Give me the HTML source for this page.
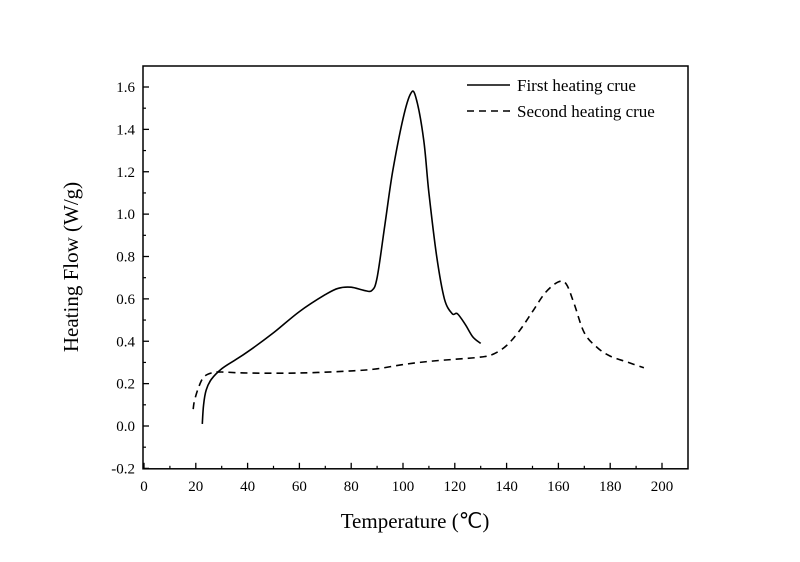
<!DOCTYPE html>
<html><head><meta charset="utf-8"><style>
body{margin:0;background:#fff;}
svg{display:block;font-family:"Liberation Serif",serif;}
</style></head><body>
<svg id="chart" width="800" height="562"></svg>
<script>
const xTicks=[0,20,40,60,80,100,120,140,160,180,200];
const yTicks=[-0.2,0.0,0.2,0.4,0.6,0.8,1.0,1.2,1.4,1.6];
const firstT=[22.5,23,24,26,30,35,40,50,60,70,75,80,85,88,90,93,96,100,103,105,108,110,113,116,119,121,124,127,130];
const firstH=[0.01,0.1,0.17,0.22,0.27,0.31,0.35,0.44,0.54,0.62,0.65,0.655,0.64,0.64,0.7,0.95,1.2,1.45,1.57,1.55,1.35,1.1,0.8,0.6,0.53,0.53,0.48,0.42,0.39];
const secondT=[19,19.5,21,23,26,30,40,60,80,90,100,110,120,130,135,140,145,150,155,160,163,166,170,175,180,187,193];
const secondH=[0.08,0.12,0.18,0.23,0.25,0.255,0.25,0.25,0.26,0.27,0.29,0.305,0.315,0.325,0.34,0.38,0.45,0.54,0.63,0.68,0.67,0.58,0.44,0.37,0.33,0.3,0.275];
const NS='http://www.w3.org/2000/svg';
const svg=document.getElementById('chart');
const L=143,R=688,T=66,B=468.8;
const xs=v=>144+(v)*(662-144)/200;
const ys=v=>426-(v)*(426-87)/1.6;
function mk(tag,attrs,parent){const e=document.createElementNS(NS,tag);for(const k in attrs)e.setAttribute(k,attrs[k]);(parent||svg).appendChild(e);return e;}
const frame=mk('rect',{x:L,y:T,width:R-L,height:B-T,fill:'none',stroke:'#000','stroke-width':1.5});


xTicks.forEach((v,i)=>{
 const t=mk('line',{x1:xs(v),x2:xs(v),y1:B,y2:B-6,stroke:'#000','stroke-width':1.3});
 
 
 if(i<xTicks.length-1){const m=mk('line',{x1:xs(v+10),x2:xs(v+10),y1:B,y2:B-3,stroke:'#000','stroke-width':1.2});
 
 }
 const lb=mk('text',{x:xs(v),y:B+22,'text-anchor':'middle','font-size':15});lb.textContent=v;
 
 
});
yTicks.forEach((v,i)=>{
 const t=mk('line',{x1:L,x2:L+6,y1:ys(v),y2:ys(v),stroke:'#000','stroke-width':1.3});
 
 
 if(i<yTicks.length-1){const m=mk('line',{x1:L,x2:L+3,y1:ys(v+0.1),y2:ys(v+0.1),stroke:'#000','stroke-width':1.2});
 
 }
 const lb=mk('text',{x:L-8,y:ys(v)+5,'text-anchor':'end','font-size':15});lb.textContent=v.toFixed(1);
 
 
});
function path(X,Y){
 const P=X.map((x,i)=>[xs(x),ys(Y[i])]);
 let d='M'+P[0][0].toFixed(1)+','+P[0][1].toFixed(1);
 for(let i=0;i<P.length-1;i++){
  const p0=P[Math.max(0,i-1)],p1=P[i],p2=P[i+1],p3=P[Math.min(P.length-1,i+2)];
  const c1=[p1[0]+(p2[0]-p0[0])/6,p1[1]+(p2[1]-p0[1])/6];
  const c2=[p2[0]-(p3[0]-p1[0])/6,p2[1]-(p3[1]-p1[1])/6];
  d+='C'+c1.map(v=>v.toFixed(1)).join(',')+' '+c2.map(v=>v.toFixed(1)).join(',')+' '+p2.map(v=>v.toFixed(1)).join(',');
 }
 return d;
}
const s1=mk('path',{d:path(firstT,firstH),fill:'none',stroke:'#000','stroke-width':1.6,'stroke-linejoin':'round'});


const s2=mk('path',{d:path(secondT,secondH),fill:'none',stroke:'#000','stroke-width':1.6,'stroke-dasharray':'7,5'});


const l1=mk('line',{x1:467,x2:510,y1:85,y2:85,stroke:'#000','stroke-width':1.6});


const t1=mk('text',{x:517,y:91,'font-size':17});t1.textContent='First heating crue';


const l2=mk('line',{x1:467,x2:510,y1:111,y2:111,stroke:'#000','stroke-width':1.6,'stroke-dasharray':'7,5'});


const t2=mk('text',{x:517,y:117,'font-size':17});t2.textContent='Second heating crue';


const xt=mk('text',{x:415,y:528,'text-anchor':'middle','font-size':21});xt.textContent='Temperature (℃)';


const yt=mk('text',{x:0,y:0,'text-anchor':'middle','font-size':21,transform:'translate(78,267) rotate(-90)'});yt.textContent='Heating Flow (W/g)';


</script>
</body></html>
